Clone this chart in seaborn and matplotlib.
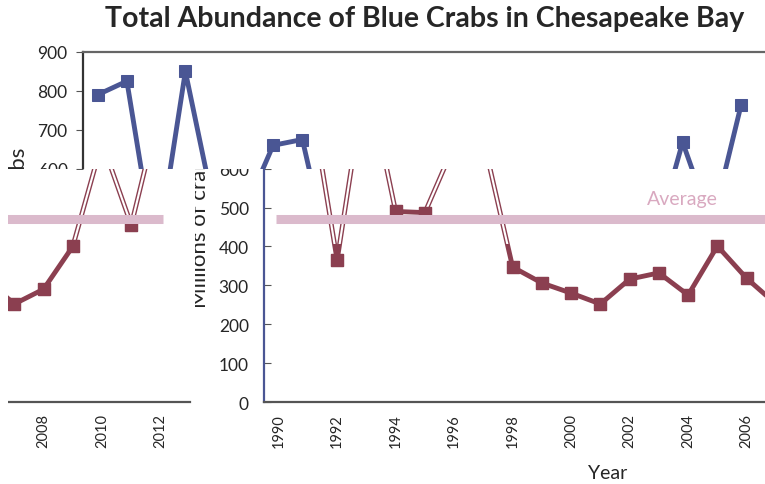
import matplotlib
matplotlib.use("Agg")
import matplotlib.pyplot as plt
from matplotlib.transforms import Bbox, TransformedBbox
import seaborn as sns

# ── data (millions of crabs) ──
years = list(range(1990, 2013))
crabs = [790, 825, 365, 850, 490, 487, 660, 675, 347, 306, 280, 252,
         316, 332, 275, 401, 318, 252, 290, 400, 668, 455, 764]
average = 470
tick_years = list(range(1990, 2013, 2))
y_ticks = list(range(0, 1000, 100))

BLUE = "#4a5694"
RED = "#8b3f50"
PINK = "#dbbacc"

sns.set_style("white")
plt.rcParams["font.family"] = ["Lato", "DejaVu Sans"]

W, H = 765, 485
fig = plt.figure(figsize=(W / 100, H / 100), dpi=100)

# geometry in pixels
STEP = 29.25
X0, X1 = 1989.5, 2013.0
TOP, BOT = 53, 403
SPLIT = 170
GHOST = 245   # below the split, steep segments look hollow down to here


def make_axes(left):
    width = (X1 - X0) * STEP
    return fig.add_axes([left / W, 1 - BOT / H, width / W, (BOT - TOP) / H])


def draw_chart(ax, line_color, spine_color, tick_dir):
    ax.set_facecolor("none")
    sns.lineplot(x=years, y=crabs, ax=ax, color=line_color, lw=3.5,
                 marker="s", markersize=9, markeredgecolor=line_color,
                 zorder=2)
    ax.hlines(average, 1989.9, 2012.1, color=PINK, lw=6.5, zorder=4)
    ax.text(2003.8, 524, "Average", color="#d9a9c0", fontsize=14,
            ha="center", va="center")
    ax.set_xlim(X0, X1)
    ax.set_ylim(0, 900)
    ax.set_xticks(tick_years)
    ax.set_xticklabels([str(y) for y in tick_years], rotation=90, fontsize=10.5)
    ax.set_xticks([y + 0.5 for y in years], minor=True)
    ax.tick_params(axis="x", which="major", length=0, pad=8)
    ax.tick_params(axis="x", which="minor", direction="in", length=4,
                   color="#555555", width=1)
    ax.set_yticks(y_ticks)
    ax.tick_params(axis="y", direction=tick_dir, length=5,
                   pad=11 if tick_dir == "in" else 6,
                   labelsize=12.5, color="#555555", left=True)
    ax.set_xlabel("Year", fontsize=14, labelpad=12)
    ax.set_ylabel("Millions of crabs", fontsize=16, labelpad=6)
    ax.spines["right"].set_visible(False)
    ax.spines["top"].set_color("#666666")
    ax.spines["bottom"].set_color("#555555")
    ax.spines["left"].set_color(spine_color)
    for s in ax.spines.values():
        s.set_linewidth(1.6)


def hollow_steep(ax):
    # white core on the steep segments, squares drawn again on top
    ghosts = []
    for i in range(len(years) - 1):
        if abs(crabs[i + 1] - crabs[i]) > 150:
            ln, = ax.plot(years[i:i + 2], crabs[i:i + 2], color="white",
                          lw=1.5, zorder=3, solid_capstyle="butt")
            ghosts.append(ln)
    ax.plot(years, crabs, ls="none", marker="s", markersize=9,
            color=RED, zorder=3.5)
    return ghosts


def clip_region(x0, y0, x1, y1):
    # pixel box (from top-left) -> display-coords bbox
    bb = Bbox([[x0 / W, 1 - y1 / H], [x1 / W, 1 - y0 / H]])
    return TransformedBbox(bb, fig.transFigure)


# top band: chart with its axis at x=83
ax_top = make_axes(83)
draw_chart(ax_top, BLUE, "#333333", "out")
# bottom band: same chart with its axis at x=264, wrapping at the right edge
ax_main = make_axes(264)
draw_chart(ax_main, RED, BLUE, "in")
ax_wrap = make_axes(264 - 761.6)
draw_chart(ax_wrap, RED, BLUE, "in")
ghost_main = hollow_steep(ax_main)
ghost_wrap = hollow_steep(ax_wrap)

fig.text(425 / W, 1 - 19 / H, "Total Abundance of Blue Crabs in Chesapeake Bay",
         ha="center", va="center", fontsize=20.5, fontweight="bold")

fig.canvas.draw()

regions = {
    ax_top: clip_region(0, 0, W, SPLIT),
    ax_main: clip_region(195, SPLIT, W, H),
    ax_wrap: clip_region(8, SPLIT, 195, H),
}
for ax, box in regions.items():
    arts = (list(ax.lines) + list(ax.collections) + list(ax.texts)
            + list(ax.spines.values())
            + ax.get_xticklabels(which="both") + ax.get_yticklabels()
            + ax.xaxis.get_ticklines() + ax.xaxis.get_ticklines(minor=True)
            + ax.yaxis.get_ticklines()
            + [ax.xaxis.label, ax.yaxis.label])
    for a in arts:
        a.set_clip_on(True)
        a.set_clip_box(box)

for ln in ghost_main:
    ln.set_clip_box(clip_region(195, SPLIT, W, GHOST))
for ln in ghost_wrap:
    ln.set_clip_box(clip_region(8, SPLIT, 195, GHOST))

fig.savefig("out.png", dpi=100)
